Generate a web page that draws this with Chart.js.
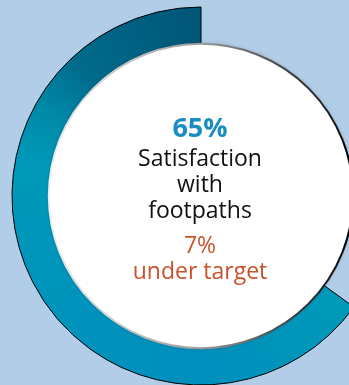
<!DOCTYPE html>
<html>
<head>
<meta charset="utf-8">
<script src="https://cdn.jsdelivr.net/npm/chart.js@4"></script>
<style>
  html, body { margin: 0; padding: 0; background: #b1cde8; overflow: hidden; }
  #wrap { position: relative; width: 349px; height: 385px; }
</style>
</head>
<body>
<div id="wrap"><canvas id="footpathChart"></canvas></div>
<script>
// satisfaction with footpaths, share of residents
const segments = ["Not satisfied", "Satisfied"];
const shares = [35, 65];
const targetGap = 7;
const centreLines = ["Satisfaction", "with", "footpaths"];
const gapLines = [targetGap + "%", "under target"];

const FONT = "'Open Sans', 'Noto Sans', sans-serif";

// ring shading runs round the circle: teal at the bottom, dark navy at the top
function ringFill(context) {
  if (context.dataIndex !== 1) return "rgba(0,0,0,0)";
  const area = context.chart.chartArea;
  if (!area) return "#0098b8";
  const cx = (area.left + area.right) / 2;
  const cy = (area.top + area.bottom) / 2;
  const g = context.chart.ctx.createConicGradient(-Math.PI / 2, cx, cy);
  g.addColorStop(0, "#005677");
  g.addColorStop(0.35, "#009ab9");
  g.addColorStop(0.5, "#008fbe");
  g.addColorStop(0.6, "#0092bd");
  g.addColorStop(0.78, "#0099b9");
  g.addColorStop(0.83, "#0089a8");
  g.addColorStop(0.88, "#006b8c");
  g.addColorStop(0.95, "#005e80");
  g.addColorStop(1, "#005677");
  return g;
}

const centreDisc = {
  id: "centreDisc",
  afterDatasetsDraw(chart) {
    const arc = chart.getDatasetMeta(0).data[1];
    if (!arc) return;
    const ctx = chart.ctx;
    const cx = arc.x, cy = arc.y;
    const r = arc.innerRadius + 1;

    ctx.save();
    // white face with a soft edge shadow
    ctx.shadowColor = "rgba(0,0,0,0.25)";
    ctx.shadowBlur = 4;
    ctx.beginPath();
    ctx.arc(cx, cy, r, 0, Math.PI * 2);
    ctx.fillStyle = "#ffffff";
    ctx.fill();
    ctx.shadowColor = "transparent";

    const edge = ctx.createLinearGradient(cx - r, 0, cx + r, 0);
    edge.addColorStop(0, "#eeeeee");
    edge.addColorStop(0.5, "#9a9a9a");
    edge.addColorStop(1, "#000000");
    ctx.lineWidth = 2;
    ctx.strokeStyle = edge;
    ctx.stroke();

    // centre text
    const tx = cx - 1;
    ctx.textAlign = "center";
    ctx.textBaseline = "alphabetic";
    ctx.fillStyle = "#1a8dc1";
    ctx.font = "bold 27px " + FONT;
    ctx.fillText(shares[1] + "%", tx, cy - 59);

    ctx.fillStyle = "#111111";
    ctx.font = "23px " + FONT;
    ctx.fillText(centreLines[0], tx, cy - 30.5);
    ctx.fillText(centreLines[1], tx, cy - 4);
    ctx.fillText(centreLines[2], tx, cy + 22);

    ctx.fillStyle = "#c9522b";
    ctx.fillText(gapLines[0], tx, cy + 57);
    ctx.fillText(gapLines[1], tx, cy + 83);
    ctx.restore();
  }
};

new Chart(document.getElementById("footpathChart"), {
  type: "doughnut",
  data: {
    labels: segments,
    datasets: [{
      data: shares,
      backgroundColor: ringFill,
      borderColor: (c) => c.dataIndex === 1 ? "#000000" : "rgba(0,0,0,0)",
      borderWidth: (c) => c.dataIndex === 1 ? 1 : 0,
      clip: false
    }]
  },
  options: {
    responsive: true,
    maintainAspectRatio: false,
    animation: false,
    radius: 189,
    cutout: "80%",
    layout: { padding: { left: 53, top: 7, right: 0, bottom: 0 } },
    plugins: {
      legend: { display: false },
      tooltip: { enabled: false }
    }
  },
  plugins: [centreDisc]
});
</script>
</body>
</html>
